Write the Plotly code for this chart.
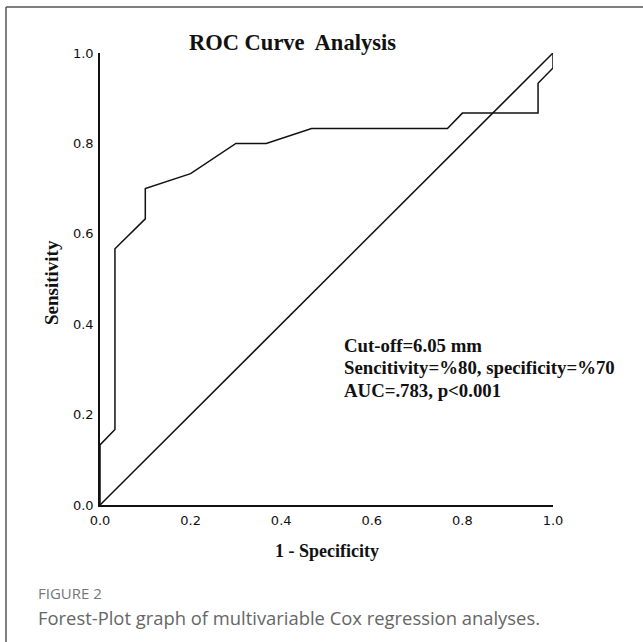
import plotly.graph_objects as go

# ROC curve data (1 - specificity, sensitivity)
fpr = [0.0, 0.0, 0.033, 0.033, 0.1, 0.1, 0.2, 0.3, 0.367, 0.467, 0.767, 0.8, 0.967, 0.967, 1.0, 1.0]
tpr = [0.0, 0.133, 0.167, 0.567, 0.633, 0.7, 0.733, 0.8, 0.8, 0.833, 0.833, 0.867, 0.867, 0.933, 0.967, 1.0]
ref_x = [0.0, 1.0]
ref_y = [0.0, 1.0]
tick_vals = [0.0, 0.2, 0.4, 0.6, 0.8, 1.0]
tick_text = ["0.0", "0.2", "0.4", "0.6", "0.8", "1.0"]
title_text = "ROC Curve\u00a0 Analysis"
x_title = "1 - Specificity"
y_title = "Sensitivity"
stats_lines = ["Cut-off=6.05 mm", "Sencitivity=%80, specificity=%70", "AUC=.783, p<0.001"]
caption_label = "FIGURE 2"
caption_text = "Forest-Plot graph of multivariable Cox regression analyses."

W, H = 643, 642
L, R, T, B = 100, 90, 53, 137
pw, ph = W - L - R, H - T - B

def px2x(px):
    return (px - L) / pw

def py2y(py):
    return (H - B - py) / ph

serif = "Liberation Serif, Times New Roman, serif"

fig = go.Figure()
fig.add_trace(go.Scatter(x=ref_x, y=ref_y, mode="lines",
                         line=dict(color="#111", width=1.5), cliponaxis=False,
                         hoverinfo="skip", showlegend=False))
fig.add_trace(go.Scatter(x=fpr, y=tpr, mode="lines",
                         line=dict(color="#111", width=1.5), cliponaxis=False,
                         showlegend=False))

axis_common = dict(range=[0, 1], showgrid=False, zeroline=False, showline=True,
                   linecolor="#111", linewidth=1.5, ticks="",
                   tickvals=tick_vals, ticktext=tick_text,
                   tickfont=dict(family="DejaVu Sans", size=13, color="#111"))

fig.update_layout(
    width=W, height=H,
    margin=dict(l=L, r=R, t=T, b=B),
    paper_bgcolor="white", plot_bgcolor="white",
    xaxis=dict(**axis_common, ticklabelstandoff=3),
    yaxis=dict(**axis_common, ticklabelstandoff=2),
    showlegend=False,
)

annotations = [
    dict(text="<b>%s</b>" % title_text, x=px2x(292), y=py2y(42), xref="paper", yref="paper",
         showarrow=False, font=dict(family=serif, size=22.5, color="#111"),
         xanchor="center", yanchor="middle"),
    dict(text="<b>%s</b>" % x_title, x=0.5, y=py2y(551), xref="paper", yref="paper",
         showarrow=False, font=dict(family=serif, size=18, color="#111"),
         xanchor="center", yanchor="middle"),
    dict(text="<b>%s</b>" % y_title, x=px2x(51), y=py2y(283), xref="paper", yref="paper",
         showarrow=False, textangle=-90, font=dict(family=serif, size=19, color="#111"),
         xanchor="center", yanchor="middle"),
    dict(text=caption_label, x=px2x(36), y=py2y(593), xref="paper", yref="paper",
         showarrow=False, font=dict(family="Open Sans", size=15, color="#777"),
         xanchor="left", yanchor="middle"),
    dict(text=caption_text, x=px2x(36), y=py2y(617), xref="paper", yref="paper",
         showarrow=False, font=dict(family="Open Sans", size=18.4, color="#666"),
         xanchor="left", yanchor="middle"),
]
for i, line in enumerate(stats_lines):
    annotations.append(dict(text="<b>%s</b>" % line, x=px2x(342), y=py2y(345 + 22.5 * i),
                            xref="paper", yref="paper", showarrow=False,
                            font=dict(family=serif, size=18.8, color="#111"),
                            xanchor="left", yanchor="middle"))
fig.update_layout(annotations=annotations)

# outer frame (left and top edges visible)
fig.add_shape(type="line", xref="paper", yref="paper",
              x0=px2x(6), y0=py2y(7), x1=px2x(W + 5), y1=py2y(7),
              line=dict(color="#555", width=1.5))
fig.add_shape(type="line", xref="paper", yref="paper",
              x0=px2x(6), y0=py2y(7), x1=px2x(6), y1=py2y(H + 5),
              line=dict(color="#555", width=1.5))

fig.write_html("out.html", config={"displayModeBar": False},
               post_script="document.body.style.margin='0px';document.body.style.overflow='hidden';")
